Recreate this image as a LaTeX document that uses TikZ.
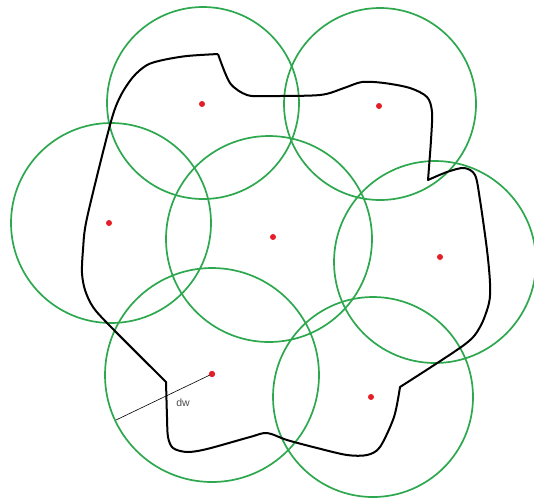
\documentclass[tikz,border=0pt]{standalone}
\usepackage{fontspec}
\setmainfont{Liberation Sans}
\begin{document}
\begin{tikzpicture}[x=1pt,y=-1pt,
  zone/.style={draw=zonegreen,line width=1.7pt},
  sensor/.style={circle,fill=dotred,inner sep=0pt,minimum size=6pt},
  border/.style={draw=black,line width=2pt,line join=round},
  lbl/.style={font=\fontsize{10.5}{12}\selectfont,text=black!70}]
\definecolor{zonegreen}{RGB}{46,168,78}
\definecolor{dotred}{RGB}{228,30,40}
\useasboundingbox[fill=white] (0,0) rectangle (534,499);
% sensor dots
\node[sensor] (d1) at (202,104) {};
\node[sensor] (d2) at (379,106) {};
\node[sensor] (d3) at (109,223) {};
\node[sensor] (d4) at (273,237) {};
\node[sensor] (d5) at (440,257) {};
\node[sensor] (d6) at (212,374) {};
\node[sensor] (d7) at (371,397) {};
% coverage circles
\draw[zone] (203,103) circle (96);
\draw[zone] (380,104) circle (96);
\draw[zone] (111,223) circle (100);
\draw[zone] (269,239) circle (103);
\draw[zone] (435,262) circle (101);
\draw[zone] (212,375) circle (107);
\draw[zone] (373,397) circle (100);
% boundary
\draw[border]
  plot[smooth,tension=0.5] coordinates {(218,54) (230,83) (247,95) (267,96) (320,95) (344,88) (362,82) (384,83) (410,88) (427,97) (432,112) (431,140) (428,180)}
  -- plot[smooth,tension=0.5] coordinates {(428,180) (447,172) (464,168) (475,175) (480,200) (487,250) (490,283) (489,303) (480,327) (464,345) (400,387)}
  -- plot[smooth,tension=0.5] coordinates {(400,387) (394,417) (380,447) (367,455) (347,455) (317,448) (287,440) (267,433) (250,437) (207,449) (187,452) (173,448) (168,437) (167,417) (166,382)}
  -- plot[smooth,tension=0.5] coordinates {(166,382) (110,326) (93,307) (85,290) (82,273) (83,250) (87,218) (110,125) (120,97) (133,77) (147,65) (163,60) (187,56) (218,54)};
% radius
\coordinate (rend) at (116,420);
\draw[line width=0.6pt] (d6.center) -- (rend);
\node[lbl] (dw) at (183,403) {dw};
\node[sensor] at (d6) {};
\end{tikzpicture}
\end{document}
